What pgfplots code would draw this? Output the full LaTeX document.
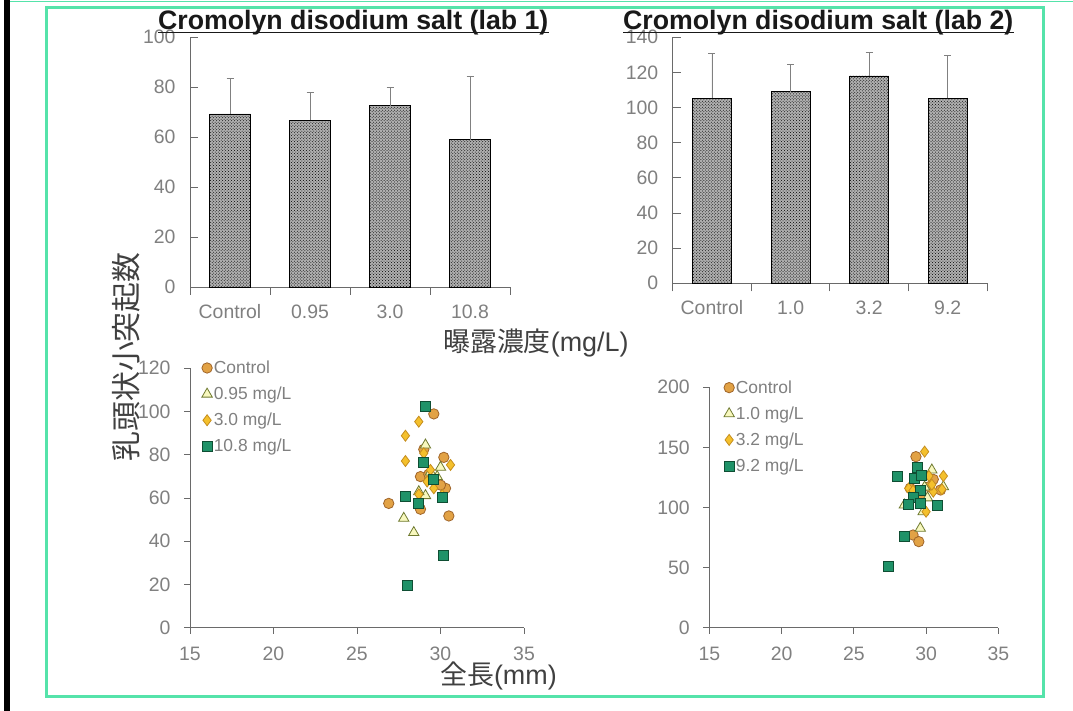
\documentclass[border=0pt]{standalone}
\usepackage{fontspec}
\setmainfont{Liberation Sans}
\newfontfamily\cjk{Noto Sans CJK JP}
\usepackage{pgfplots}
\pgfplotsset{compat=1.18}
\usetikzlibrary{patterns}
\definecolor{framegreen}{HTML}{55E3AA}
\definecolor{tickgray}{HTML}{808080}
\definecolor{axisgray}{HTML}{6A6A6A}
\definecolor{labgray}{HTML}{404040}
\definecolor{cfill}{HTML}{E2A245}
\definecolor{cdraw}{HTML}{A0652A}
\definecolor{tfill}{HTML}{F8F8BE}
\definecolor{tdraw}{HTML}{6F7A30}
\definecolor{dfill}{HTML}{F4C02C}
\definecolor{ddraw}{HTML}{C68E1E}
\definecolor{sfill}{HTML}{1F9268}
\definecolor{sdraw}{HTML}{0F4E33}

\pgfplotstableread{
x y e
1 69.2 14.3
2 66.7 11.2
3 72.5 7.4
4 58.9 25.5
}\barA
\pgfplotstableread{
x y e
1 105.3 25.6
2 109.1 15.6
3 118.0 13.3
4 105.3 24.3
}\barB

\pgfplotsset{
  myticks/.style={tick label style={font=\fontsize{19.5}{22}\selectfont, text=tickgray},
    /pgf/number format/assume math mode=true},
  barax/.style={scale only axis, anchor=south west, xmin=0.5, xmax=4.5, ymin=0,
    axis x line*=bottom, axis y line*=left,
    axis line style={-, draw=axisgray, line width=0.9bp},
    xtick={1,2,3,4},
    every major x tick/.append style={draw=none},
    tick align=inside, major tick length=8bp,
    every major y tick/.append style={draw=axisgray, line width=0.9bp},
    extra x ticks={0.5,1.5,2.5,3.5,4.5},
    extra x tick labels={},
    extra x tick style={tick align=outside, every major x tick/.append style={draw=axisgray, line width=0.9bp}},
    myticks,
    yticklabel style={xshift=-11bp},
    xticklabel style={yshift=-14bp},
    clip=false,
  },
  barplot/.style={ybar, draw=black, line width=0.9bp, fill=gray!62,
    postaction={pattern=crosshatch dots, pattern color=black},
    error bars/y dir=plus, error bars/y explicit,
    error bars/error bar style={draw=tickgray, line width=0.9bp},
    error bars/error mark options={draw=tickgray, line width=0.9bp, mark size=3.5bp, rotate=90}},
  scatax/.style={scale only axis, anchor=south west, xmin=15, xmax=35, ymin=0,
    axis x line*=bottom, axis y line*=left,
    axis line style={-, draw=axisgray, line width=0.9bp},
    xtick={15,20,...,35}, tick align=outside, major tick length=6bp,
    every major tick/.append style={draw=axisgray, line width=0.9bp},
    myticks, yticklabel style={xshift=-10bp}, xticklabel style={yshift=-10bp},
    legend cell align=left,
    legend image code/.code={\draw[#1] plot coordinates {(0bp,0bp)};},
    legend style={draw=none, fill=none, anchor=north west, inner sep=0pt,
      font=\fontsize{17.5}{20}\selectfont, text=tickgray, row sep=9bp,
      nodes={inner sep=1.5bp}},
    clip=false,
  },
  mc/.style={only marks, mark=*, mark size=5.2bp, mark options={fill=cfill, draw=cdraw, line width=0.8bp}},
  mt/.style={only marks, mark=triangle*, mark size=6bp, mark options={fill=tfill, draw=tdraw, line width=0.8bp}},
  md/.style={only marks, mark=diamond*, mark size=5.5bp, mark options={fill=dfill, draw=ddraw, line width=0.8bp}},
  ms/.style={only marks, mark=square*, mark size=5bp, mark options={fill=sfill, draw=sdraw, line width=0.8bp}},
}

\begin{document}
\begin{tikzpicture}
\path[use as bounding box] (0,0) rectangle (1073bp,711bp);
\fill[white] (0,0) rectangle (1073bp,711bp);
\fill[black] (4bp,0) rectangle (10bp,711bp);
\draw[framegreen, line width=1.5bp] (10bp,709.5bp) -- (1073bp,709.5bp);
\draw[framegreen, line width=3bp] (46bp,14bp) rectangle (1043bp,703bp);

% ---- bar chart lab 1
\begin{axis}[barax, at={(190bp,424bp)}, width=320bp, height=250bp, ymax=100,
  ytick={0,20,...,100}, xticklabels={Control,0.95,3.0,10.8}]
\addplot[bar width=41bp, barplot] table[x=x, y=y, y error=e] {\barA};
\end{axis}

% ---- bar chart lab 2
\begin{axis}[barax, at={(672.7bp,427.7bp)}, width=314.3bp, height=246bp, ymax=140,
  ytick={0,20,...,140}, xticklabels={Control,1.0,3.2,9.2}]
\addplot[bar width=39bp, barplot] table[x=x, y=y, y error=e] {\barB};
\end{axis}

% ---- scatter lab 1
\begin{axis}[scatax, at={(190bp,83.3bp)}, width=334bp, height=259.4bp, ymax=120,
  ytick={0,20,...,120},
  legend style={at={(0.035,1.035)}}]
\addplot[mc] coordinates {(29.6,98.9) (30.2,78.8) (28.8,69.9) (30.3,64.5) (26.9,57.5) (28.8,54.8) (30.5,51.7) (29.0,82.5) (29.3,71.0) (30.0,66.0)};
\addlegendentry{Control}
\addplot[mt] coordinates {(29.1,84.5) (30.0,74.2) (27.8,50.6) (28.4,44.0) (29.1,61.1) (28.7,62.9) (29.8,69.9) (29.4,72.0)};
\addlegendentry{0.95 mg/L}
\addplot[md] coordinates {(28.7,95.3) (27.9,88.8) (27.9,77.1) (30.6,75.3) (29.0,80.7) (29.2,67.6) (29.6,64.5) (30.1,61.4) (28.7,61.7) (29.4,73.0)};
\addlegendentry{3.0 mg/L}
\addplot[ms] coordinates {(29.1,102.3) (29.0,76.4) (29.6,68.8) (27.9,60.6) (30.1,60.3) (28.7,57.5) (30.2,33.6) (28.0,19.6)};
\addlegendentry{10.8 mg/L}
\end{axis}

% ---- scatter lab 2
\begin{axis}[scatax, at={(709.3bp,83.3bp)}, width=289bp, height=240.4bp, ymax=200,
  ytick={0,50,...,200},
  legend style={at={(0.05,1.035)}}]
\addplot[mc] coordinates {(29.3,142.3) (30.5,123.4) (29.1,77.1) (29.5,71.6) (31.0,114.6) (30.2,117.3) (28.9,116.0) (29.7,110.0)};
\addlegendentry{Control}
\addplot[mt] coordinates {(30.4,131.2) (29.6,82.7) (28.5,102.1) (29.8,96.5) (31.2,117.3) (29.9,117.0) (30.1,108.0)};
\addlegendentry{1.0 mg/L}
\addplot[md] coordinates {(29.9,146.5) (31.2,126.2) (28.8,115.9) (30.2,126.2) (30.5,113.2) (31.1,115.1) (30.0,96.5) (29.1,114.0) (30.4,119.0)};
\addlegendentry{3.2 mg/L}
\addplot[ms] coordinates {(29.4,133.1) (28.0,125.7) (29.2,124.3) (29.7,127.0) (29.6,114.6) (29.1,108.5) (28.8,102.6) (29.6,103.5) (30.8,101.5) (28.5,76.3) (27.4,51.3)};
\addlegendentry{9.2 mg/L}
\end{axis}

% ---- titles
\node[anchor=base west, inner sep=0pt, font=\fontsize{26.8}{30}\selectfont\bfseries, text=black!90] (t1) at (158bp,681bp) {Cromolyn disodium salt (lab 1)};
\draw[black!90, line width=1.2bp] ([yshift=-2.5bp]t1.base west) -- ([yshift=-2.5bp]t1.base east);
\node[anchor=base west, inner sep=0pt, font=\fontsize{26.8}{30}\selectfont\bfseries, text=black!90] (t2) at (623bp,681bp) {Cromolyn disodium salt (lab 2)};
\draw[black!90, line width=1.2bp] ([yshift=-2.5bp]t2.base west) -- ([yshift=-2.5bp]t2.base east);

% ---- axis labels
\node[anchor=base west, inner sep=0pt, text=labgray, font=\fontsize{27}{30}\selectfont] at (443bp,359bp) {{\cjk 曝露濃度}(mg/L)};
\node[anchor=base west, inner sep=0pt, text=labgray, font=\fontsize{27}{30}\selectfont] at (440bp,27bp) {{\cjk 全長}(mm)};
\node[rotate=90, anchor=center, inner sep=0pt, text=labgray, font=\fontsize{30}{32}\selectfont\cjk] at (126bp,354bp) {乳頭状小突起数};
\end{tikzpicture}
\end{document}
